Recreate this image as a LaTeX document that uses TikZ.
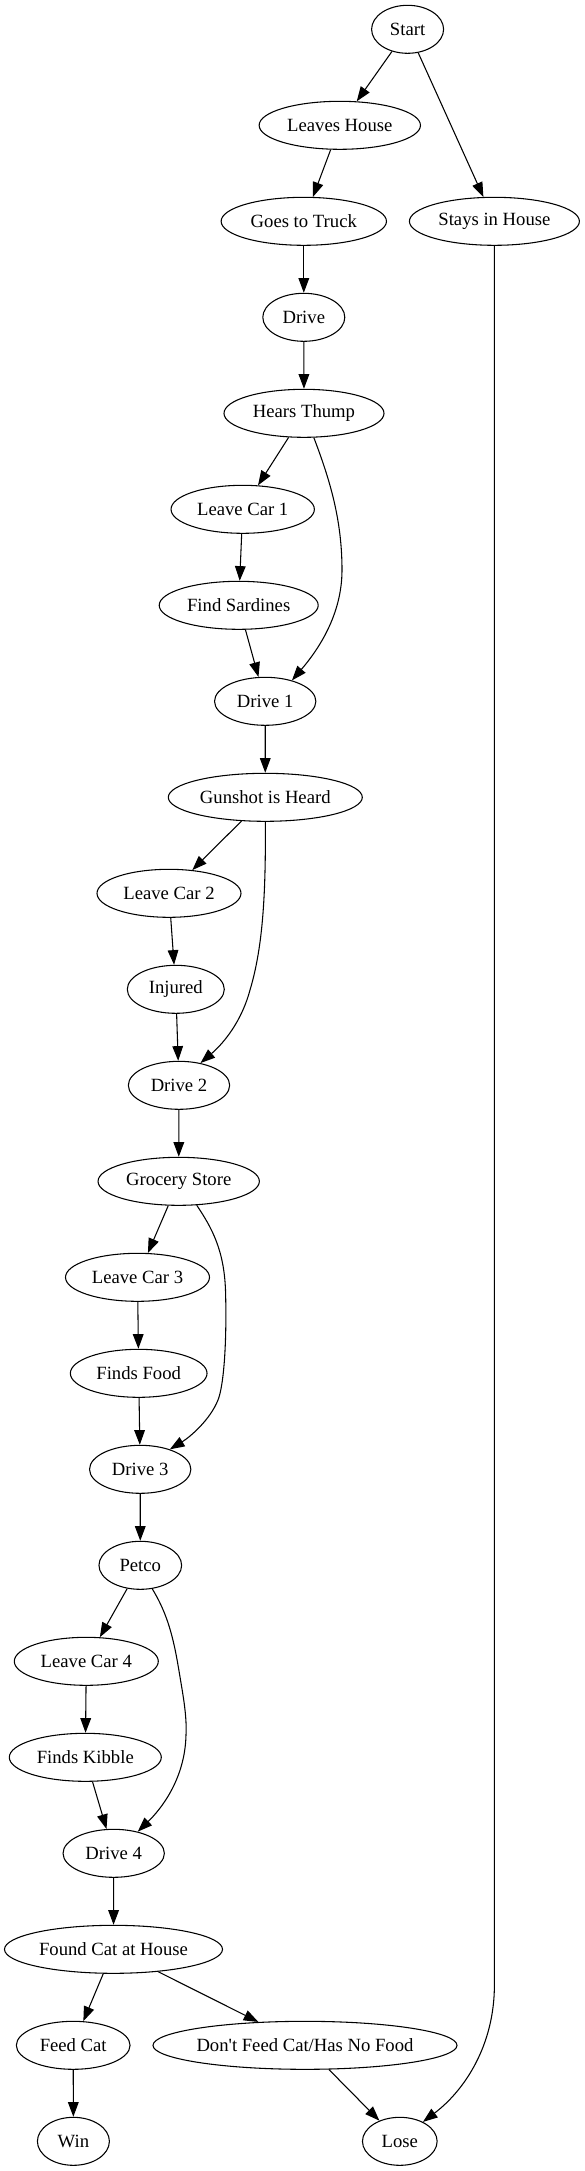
\documentclass[tikz,border=0pt]{standalone}
\usepackage{fontspec}
\setmainfont{Liberation Serif}
\usetikzlibrary{shapes.geometric,arrows.meta}
\newcommand{\zt}[1]{\makebox[0pt]{#1}}
\begin{document}
\begin{tikzpicture}[x=0.75pt,y=-0.75pt,
  nd/.style={ellipse,draw,line width=0.8pt,inner sep=0pt,minimum height=36pt,font=\fontsize{14}{16}\selectfont},
  ar/.style={-{Triangle[length=11pt,width=8pt]},line width=0.8pt}]
\fill[white] (0,0) rectangle (585,2171);
\useasboundingbox (0,0) rectangle (585,2171);
% nodes
\node[nd,minimum width=54pt]    (start) at (407.6,29.3)   {\zt{Start}};
\node[nd,minimum width=121pt]   (lh)    at (339.8,125.3)  {\zt{Leaves House}};
\node[nd,minimum width=124pt]   (gt)    at (303.8,221.3)  {\zt{Goes to Truck}};
\node[nd,minimum width=127.5pt] (stay)  at (494.4,221.3)  {\zt{Stays in House}};
\node[nd,minimum width=61.5pt]  (dr)    at (303.8,317.3)  {\zt{Drive}};
\node[nd,minimum width=120pt]   (ht)    at (304,413.3)    {\zt{Hears Thump}};
\node[nd,minimum width=107.5pt] (lc1)   at (242.7,509.3)  {\zt{Leave Car 1}};
\node[nd,minimum width=119.25pt](fs)    at (238.7,605.3)  {\zt{Find Sardines}};
\node[nd,minimum width=76pt]    (d1)    at (265.2,701.3)  {\zt{Drive 1}};
\node[nd,minimum width=145.5pt] (gh)    at (265.3,797.3)  {\zt{Gunshot is Heard}};
\node[nd,minimum width=108pt]   (lc2)   at (169,893.3)    {\zt{Leave Car 2}};
\node[nd,minimum width=72.75pt] (inj)   at (175.8,989.3)  {\zt{Injured}};
\node[nd,minimum width=76pt]    (d2)    at (179,1085.3)   {\zt{Drive 2}};
\node[nd,minimum width=121pt]   (gs)    at (178.7,1181.3) {\zt{Grocery Store}};
\node[nd,minimum width=108pt]   (lc3)   at (137.5,1277.3) {\zt{Leave Car 3}};
\node[nd,minimum width=102.5pt] (ff)    at (138.7,1373.3) {\zt{Finds Food}};
\node[nd,minimum width=76pt]    (d3)    at (140.2,1469.3) {\zt{Drive 3}};
\node[nd,minimum width=62pt]    (pt)    at (140.3,1565.3) {\zt{Petco}};
\node[nd,minimum width=108pt]   (lc4)   at (86.3,1661.3)  {\zt{Leave Car 4}};
\node[nd,minimum width=114pt]   (fk)    at (85.3,1757.3)  {\zt{Finds Kibble}};
\node[nd,minimum width=76pt]    (d4)    at (113.7,1853.3) {\zt{Drive 4}};
\node[nd,minimum width=163.5pt] (fc)    at (113.5,1949.3) {\zt{Found Cat at House}};
\node[nd,minimum width=85.3pt]  (feed)  at (73.2,2045.3)  {\zt{Feed Cat}};
\node[nd,minimum width=228pt]   (dont)  at (305,2045.3)   {\zt{Don\textquotesingle t Feed Cat/Has No Food}};
\node[nd,minimum width=54pt]    (win)   at (73.4,2141.3)  {\zt{Win}};
\node[nd,minimum width=56pt]    (lose)  at (399.8,2141.3) {\zt{Lose}};
% straight edges
\draw[ar] (start) -- (lh);
\draw[ar] (start) -- (stay);
\draw[ar] (lh) -- (gt);
\draw[ar] (gt) -- (dr);
\draw[ar] (dr) -- (ht);
\draw[ar] (ht) -- (lc1);
\draw[ar] (lc1) -- (fs);
\draw[ar] (fs) -- (d1);
\draw[ar] (d1) -- (gh);
\draw[ar] (gh) -- (lc2);
\draw[ar] (lc2) -- (inj);
\draw[ar] (inj) -- (d2);
\draw[ar] (d2) -- (gs);
\draw[ar] (gs) -- (lc3);
\draw[ar] (lc3) -- (ff);
\draw[ar] (ff) -- (d3);
\draw[ar] (d3) -- (pt);
\draw[ar] (pt) -- (lc4);
\draw[ar] (lc4) -- (fk);
\draw[ar] (fk) -- (d4);
\draw[ar] (d4) -- (fc);
\draw[ar] (fc) -- (feed);
\draw[ar] (fc) -- (dont);
\draw[ar] (feed) -- (win);
\draw[ar] (dont) -- (lose);
% curved edges
\draw[ar] (ht.-68) .. controls (330,480) and (342,520) .. (342,570)
          .. controls (342,615) and (318,650) .. (d1.38);
\draw[ar] (gh.south) .. controls (266,900) and (262,950) .. (250,990)
          .. controls (242,1020) and (225,1042) .. (d2.46);
\draw[ar] (gs.-53) .. controls (212,1228) and (224,1250) .. (225.5,1290)
          .. controls (227,1340) and (224,1385) .. (218,1400)
          .. controls (210,1420) and (190,1437) .. (d3.34);
\draw[ar] (pt.-63) .. controls (165,1610) and (172,1630) .. (178,1665)
          .. controls (183,1695) and (187,1715) .. (186,1735)
          .. controls (185,1780) and (160,1810) .. (d4.42);
\draw[ar] (stay.south) -- (494.4,1985)
          .. controls (494.4,2045) and (465,2090) .. (lose.40);
\end{tikzpicture}
\end{document}
